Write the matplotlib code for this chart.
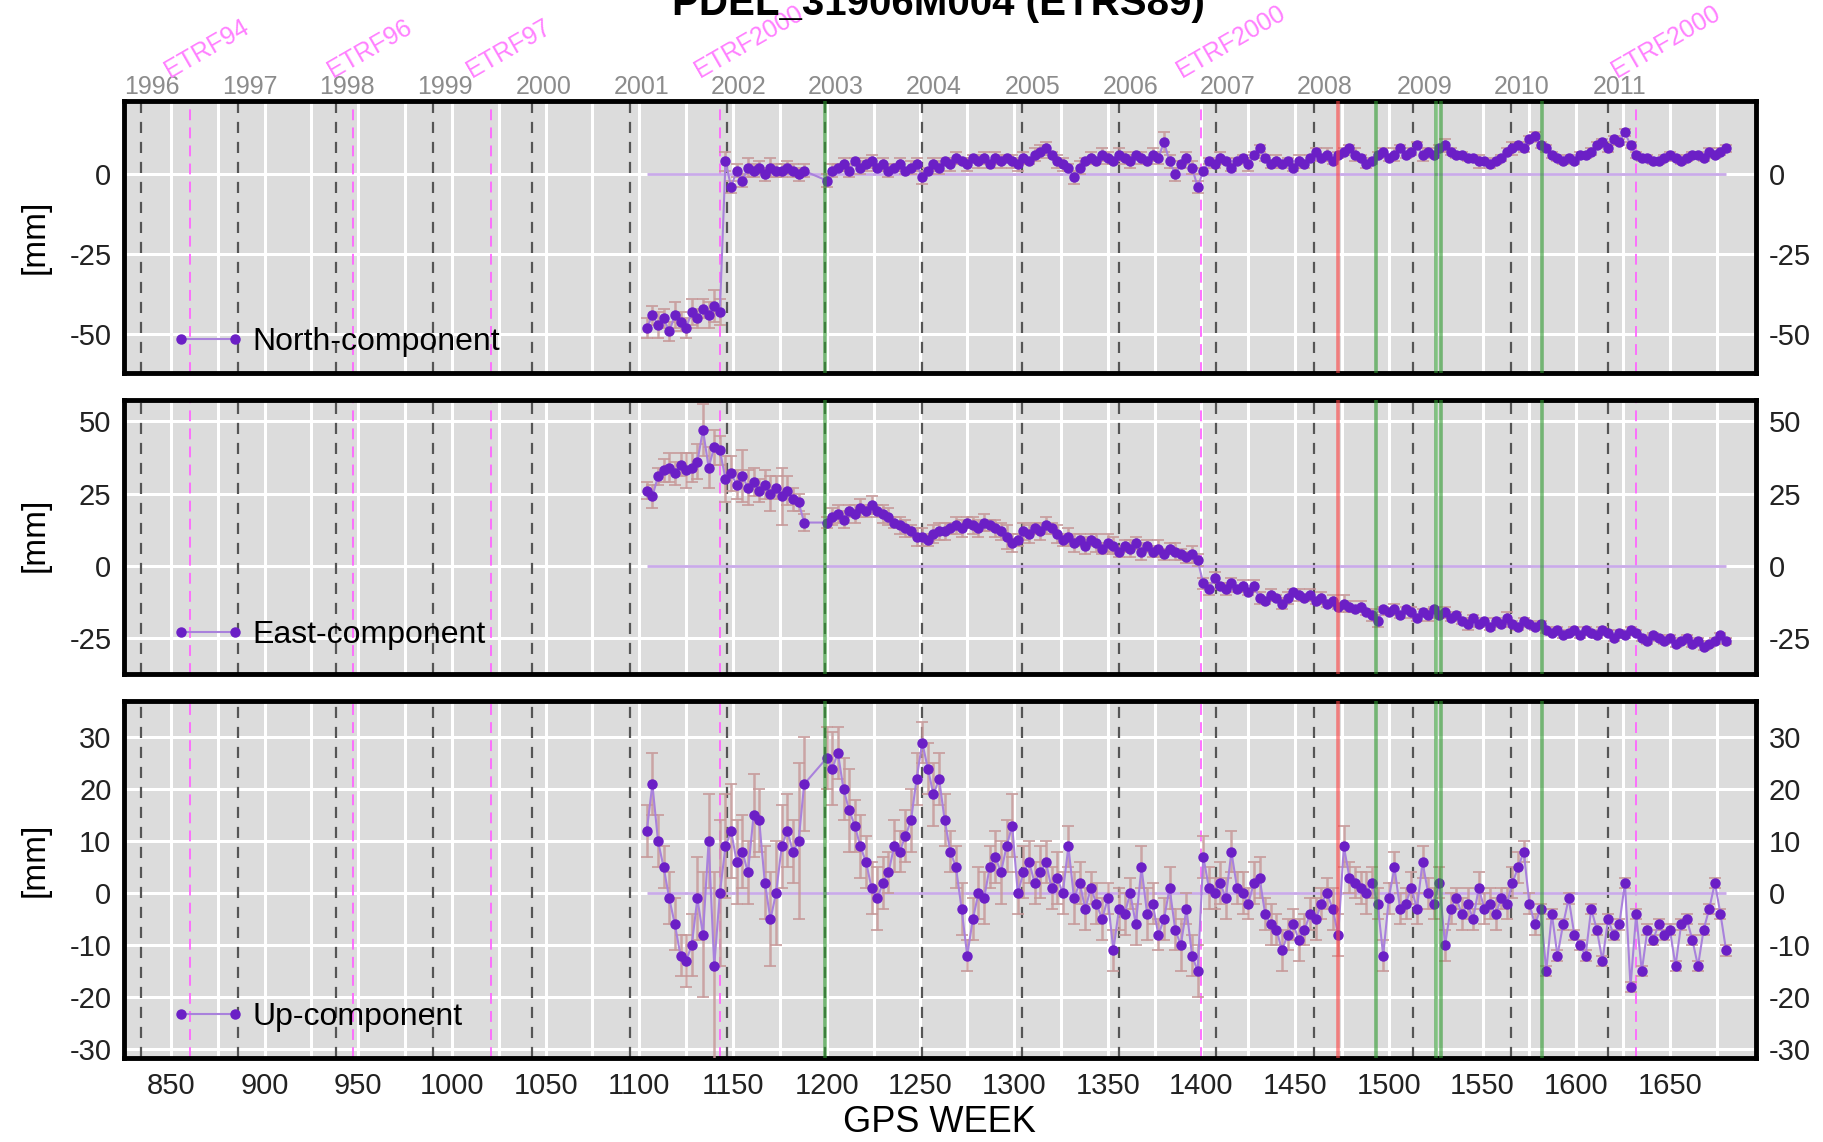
import numpy as np
import matplotlib
matplotlib.use("Agg")
import matplotlib.pyplot as plt
from matplotlib.transforms import blended_transform_factory

plt.rcParams['font.family'] = ['Liberation Sans', 'DejaVu Sans']
plt.rcParams['axes.unicode_minus'] = False

# GPS weeks of the solutions (one every 3 weeks, 1104 .. 1680)
weeks = np.arange(1104, 1681, 3)

# residuals in mm (nan = no solution)
north = np.array("""
-48 -44 -47 -45 -49 -44 -46 -48 -43 -45
-42 -44 -41 -43 4 -4 1 -2 2 1
2 0 2 1 1 2 1 0 1 nan
nan nan -2 1 2 3 1 4 2 3
4 2 3 1 2 3 1 2 3 -1
1 3 2 4 3 5 4 3 5 4
5 3 5 4 5 4 3 5 4 6
7 8 6 4 3 2 -1 2 4 5
4 6 5 4 6 5 4 6 5 4
6 5 10 4 0 3 5 2 -4 1
4 3 5 4 2 4 5 3 6 8
5 3 4 3 4 2 4 3 5 7
5 6 4 6 7 8 6 5 3 4
6 7 5 6 8 6 7 9 6 7
6 8 9 7 6 6 5 5 4 4
3 4 5 7 8 9 8 11 12 9
8 6 5 4 5 4 6 6 7 9
10 8 11 10 13 9 6 5 5 4
4 5 6 5 4 5 6 6 5 7
6 7 8
""".split(), dtype=float)

east = np.array("""
26 24 31 33 34 32 35 33 34 36
47 34 41 40 30 32 28 31 27 29
26 28 25 27 24 26 23 22 15 nan
nan nan 15 17 18 16 19 18 20 19
21 19 18 17 15 14 13 12 10 10
9 11 12 12 13 14 13 15 14 13
15 14 13 12 10 8 9 12 11 13
12 14 13 11 9 10 8 9 7 9
8 6 8 7 5 7 6 8 5 7
5 6 4 6 5 4 3 4 2 -6
-8 -4 -7 -8 -6 -8 -7 -9 -7 -11
-12 -10 -11 -13 -11 -9 -10 -11 -10 -12
-11 -13 -12 -14 -13 -14 -15 -14 -16 -17
-19 -15 -16 -15 -17 -15 -16 -18 -16 -17
-15 -17 -16 -18 -17 -19 -20 -18 -20 -19
-21 -19 -20 -18 -20 -21 -19 -20 -21 -20
-22 -23 -22 -24 -23 -22 -24 -22 -23 -24
-22 -23 -25 -23 -24 -22 -23 -25 -26 -24
-25 -26 -25 -27 -26 -25 -27 -26 -28 -27
-26 -24 -26
""".split(), dtype=float)

up = np.array("""
12 21 10 5 -1 -6 -12 -13 -10 -1
-8 10 -14 0 9 12 6 8 4 15
14 2 -5 0 9 12 8 10 21 nan
nan nan 26 24 27 20 16 13 9 6
1 -1 2 4 9 8 11 14 22 29
24 19 22 14 8 5 -3 -12 -5 0
-1 5 7 4 9 13 0 4 6 2
4 6 1 3 0 9 -1 2 -3 1
-2 -5 -1 -11 -3 -4 0 -6 5 -4
-2 -8 -5 1 -7 -10 -3 -12 -15 7
1 0 2 -1 8 1 0 -2 2 3
-4 -6 -7 -11 -8 -6 -9 -7 -4 -5
-2 0 -3 -8 9 3 2 1 0 2
-2 -12 -1 5 -3 -2 1 -3 6 0
-2 2 -10 -3 -1 -4 -2 -5 1 -3
-2 -4 -1 -2 2 5 8 -2 -6 -3
-15 -4 -12 -6 -1 -8 -10 -12 -3 -7
-13 -5 -8 -6 2 -18 -4 -15 -7 -9
-6 -8 -7 -14 -6 -5 -9 -14 -7 -3
2 -4 -11
""".split(), dtype=float)

# formal errors (mm)
north_err = np.array("""
3 3 4 3 3 4 3 3 4 3
3 4 5 4 3 2 2 2 3 2
2 2 3 2 2 2 2 2 2 0
0 0 2 2 1 2 2 1 2 2
2 1 2 2 1 2 1 2 2 2
1 2 2 1 2 2 1 2 1 2
2 1 2 2 1 2 2 2 1 2
2 2 1 2 2 1 2 2 1 2
1 2 2 1 2 2 2 1 2 1
2 2 3 2 2 1 2 2 2 1
1 1 2 1 1 1 1 2 1 1
1 1 2 1 1 1 2 1 1 1
1 2 1 1 1 1 2 1 1 1
1 1 1 2 1 1 1 1 2 1
1 1 2 1 1 1 1 1 2 1
1 1 1 1 2 1 1 1 1 1
1 1 1 1 1 1 1 1 1 1
1 1 1 1 1 1 1 1 1 1
1 1 1 1 1 1 1 1 1 1
1 1 1
""".split(), dtype=float)

east_err = np.array("""
3 4 3 4 5 4 4 6 5 6
9 7 6 5 8 6 5 9 6 5
4 5 6 4 10 5 4 3 3 0
0 0 2 3 3 3 2 3 3 2
3 2 3 3 2 3 3 2 3 3
2 3 3 3 2 3 3 2 3 3
3 2 3 3 4 3 2 3 3 2
3 3 2 3 2 3 3 2 3 2
3 2 3 3 2 2 3 2 3 2
2 3 2 2 3 2 2 3 2 2
2 2 1 2 2 1 2 1 2 2
1 2 1 2 2 1 2 1 2 1
2 1 2 1 3 2 1 2 1 2
2 1 1 2 1 1 2 1 1 2
1 1 2 1 1 1 2 1 1 1
1 1 1 2 1 1 1 1 1 1
1 1 1 1 1 1 1 1 1 1
1 1 1 1 1 1 1 1 1 1
1 1 1 1 1 1 1 1 1 1
1 1 1
""".split(), dtype=float)

up_err = np.array("""
5 6 5 4 5 5 4 5 6 8
12 9 18 14 10 9 8 7 6 8
6 7 9 10 8 7 6 15 9 0
0 0 6 7 5 6 8 5 6 5
5 6 5 4 5 4 5 6 5 4
5 6 5 5 4 4 5 3 4 5
5 4 5 6 5 6 4 5 4 4
5 4 4 5 4 4 5 4 4 3
4 4 3 4 4 4 3 4 4 5
4 3 4 4 4 5 3 4 5 4
4 3 4 4 4 3 4 3 4 4
3 4 3 4 3 3 4 3 3 4
3 3 4 4 4 3 3 3 4 3
3 3 3 3 3 3 3 3 3 3
3 3 3 3 2 3 3 2 3 3
3 3 2 3 3 3 2 2 2 1
1 1 1 1 1 1 1 1 1 1
1 1 1 1 1 1 1 1 1 1
1 1 1 1 1 1 1 1 1 1
1 1 1
""".split(), dtype=float)

for arr in (north, east, up, north_err, east_err, up_err):
    assert len(arr) == len(weeks), len(arr)

# first GPS week of each year
years = ['1996', '1997', '1998', '1999', '2000', '2001', '2002', '2003',
         '2004', '2005', '2006', '2007', '2008', '2009', '2010', '2011']
year_weeks = [834, 886, 938, 990, 1043, 1095, 1147, 1199,
              1251, 1304, 1356, 1408, 1460, 1513, 1565, 1617]

# reference frame changes
etrf_names = ['ETRF94', 'ETRF96', 'ETRF97', 'ETRF2000', 'ETRF2000', 'ETRF2000']
etrf_weeks = [860, 947, 1021, 1143, 1400, 1632]

# equipment changes (green) and discontinuity (red)
green_weeks = [1199, 1493, 1525, 1528, 1582]
red_weeks = [1473]

fig = plt.figure(figsize=(18.23, 11.42), dpi=100)

panels = [
    # values, errors, legend, [left, bottom, width, height], ylim, yticks, ylabel y
    (north, north_err, 'North-component', [0.068, 0.6734, 0.8953, 0.2382], (-62, 22.8), [-50, -25, 0], 0.793),
    (east, east_err, 'East-component', [0.068, 0.4098, 0.8953, 0.2399], (-37.3, 57.3), [-25, 0, 25, 50], 0.532),
    (up, up_err, 'Up-component', [0.068, 0.0736, 0.8953, 0.3126], (-31.7, 37.0), [-30, -20, -10, 0, 10, 20, 30], 0.247),
]
legend_y = [0.114, 0.142, 0.115]

axes = []
for k, (vals, errs, name, rect, ylim, yticks, ylab_y) in enumerate(panels):
    ax = fig.add_axes(rect)
    axes.append(ax)
    ax.set_facecolor('#dcdcdc')
    ax.set_axisbelow(True)

    ok = ~np.isnan(vals)
    w, v, e = weeks[ok], vals[ok], errs[ok]

    # vertical reference lines
    for wk in year_weeks:
        ax.axvline(wk, color='#555555', lw=1.6, ls=(0, (5, 4)), zorder=1.5)
    for wk in etrf_weeks:
        ax.axvline(wk, color='#ff66ff', lw=1.3, ls=(0, (6, 4)), zorder=1.6)

    ax.hlines(0, w.min(), w.max(), color='#c9aae8', lw=2, zorder=2)

    ax.errorbar(w, v, yerr=e, fmt='none', ecolor='#c79a9a', elinewidth=1.8,
                capsize=4, capthick=1.4, alpha=0.85, zorder=3)
    ax.plot(w, v, '-o', color='#a981dc', lw=1.5, ms=6.5,
            mfc='#6b1fc6', mec='#6b1fc6', zorder=4, label=name)

    for wk in green_weeks:
        ax.axvline(wk, color='#2e9a2e', lw=2.6, alpha=0.6, zorder=5)
    for wk in red_weeks:
        ax.axvline(wk, color='#ff4040', lw=2.6, alpha=0.6, zorder=5)

    ax.set_xlim(829, 1696)
    ax.set_ylim(*ylim)
    ax.set_yticks(yticks)
    ax.set_xticks(np.arange(850, 1651, 50))
    ax.set_xticks(np.arange(825, 1700, 50), minor=True)
    ax.grid(True, which='both', axis='x', color='white', lw=2.2)
    ax.grid(True, which='major', axis='y', color='white', lw=2.2)

    for s in ax.spines.values():
        s.set_linewidth(3.5)
        s.set_color('black')

    ax.tick_params(axis='both', which='both', length=0, labelsize=21, colors='#222222')
    ax.tick_params(axis='y', labelright=True, pad=9)
    ax.tick_params(axis='x', pad=10, labelbottom=(k == 2))

    ax.legend(loc='center left', bbox_to_anchor=(0.029, legend_y[k]), frameon=False,
              fontsize=23, handlelength=2.3, handletextpad=0.25, numpoints=2,
              borderpad=0, borderaxespad=0)

    fig.text(0.019, ylab_y, '[mm]', rotation=90, ha='center', va='center', fontsize=24)

# labels above the top panel
top = axes[0]
trans = blended_transform_factory(top.transData, top.transAxes)
for yr, wk in zip(years, year_weeks):
    top.text(wk + 6, 1.051, yr, transform=trans, ha='center', va='center',
             fontsize=18, color='#8c8c8c', clip_on=False)
for name, wk in zip(etrf_names, etrf_weeks):
    top.text(wk - 9, 1.07, name, transform=trans, rotation=30, rotation_mode='anchor',
             ha='left', va='bottom', fontsize=18, color='#ff80ff', clip_on=False)

fig.text(0.515, 0.987, 'PDEL_31906M004 (ETRS89)', ha='center', va='baseline',
         fontsize=29, fontweight='bold')
fig.text(0.5155, 0.0175, 'GPS WEEK', ha='center', va='center', fontsize=26)

fig.savefig('out.png', dpi=100)
